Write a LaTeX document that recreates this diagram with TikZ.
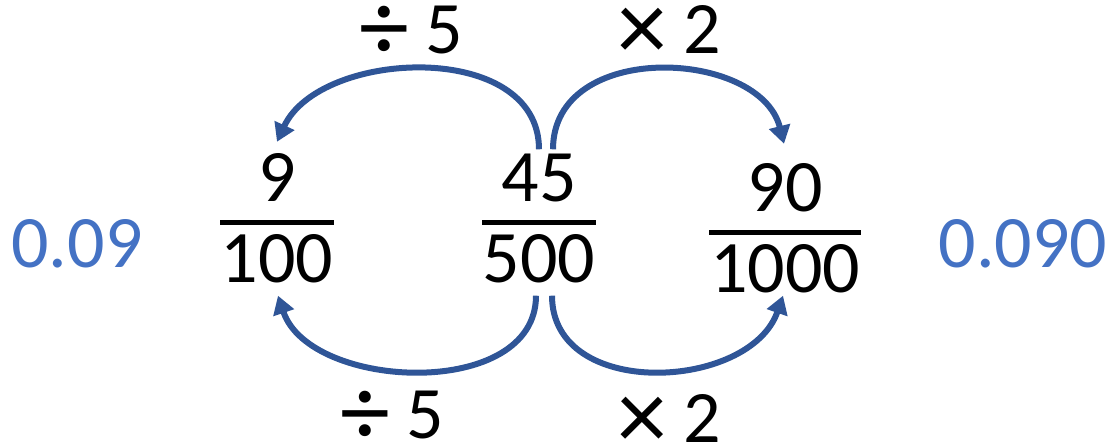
\documentclass[tikz,border=0pt]{standalone}
\usepackage{fontspec}
\setmainfont{Carlito}
\usetikzlibrary{arrows.meta}
\definecolor{hopblue}{HTML}{2F5597}
\definecolor{decblue}{HTML}{4472C4}
\newcommand{\bigop}[1]{\raisebox{-7pt}{\scalebox{1.35}{#1}}}
\tikzset{
  num/.style={inner sep=0pt, anchor=base, font=\fontsize{74}{80}\selectfont},
  dec/.style={num, text=decblue},
  fracbar/.style={line width=5pt},
  hop/.style={hopblue, line width=6pt, -{Triangle[length=18pt,width=21pt]}},
}
\begin{document}
\begin{tikzpicture}[x=1pt,y=-1pt]
    \useasboundingbox (0,0) rectangle (1115,446);

    % Fractions
    \node[num] (n9) at (277,202) {9};
    \node[num] (d100) at (277,282) {100};
    \draw[fracbar] (220,223) -- (334,223);

    \node[num] (n45) at (539,202) {45};
    \node[num] (d500) at (539,282) {500};
    \draw[fracbar] (482,223) -- (596,223);

    \node[num] (n90) at (785,212) {90};
    \node[num] (d1000) at (785,292) {1000};
    \draw[fracbar] (709,233) -- (861,233);

    % Decimals
    \node[dec] (left) at (77,267) {0.09};
    \node[dec] (right) at (1023,267) {0.090};

    % Operation labels
    \node[num] (divtop) at (411,54) {\bigop{÷} 5};
    \node[num] (multop) at (669,54) {\bigop{×} 2};
    \node[num] (divbot) at (392,438) {\bigop{÷} 5};
    \node[num] (mulbot) at (669,442) {\bigop{×} 2};

    % Arcs
    \draw[hop] ([shift={(0,-5)}]n45.north) .. controls +(0,-110) and +(43,-93) .. ([shift={(0,-12)}]n9.north);
    \draw[hop] ([shift={(14,-5)}]n45.north) .. controls +(0,-110) and +(-24,-95) .. ([shift={(-1,-20)}]n90.north);
    \draw[hop] ([shift={(-3,13)}]d500.south) .. controls +(0,105) and +(32,95) .. ([shift={(1,13)}]d100.south);
    \draw[hop] ([shift={(13,13)}]d500.south) .. controls +(0,105) and +(-33,95) .. ([shift={(-2,3)}]d1000.south);
\end{tikzpicture}
\end{document}
